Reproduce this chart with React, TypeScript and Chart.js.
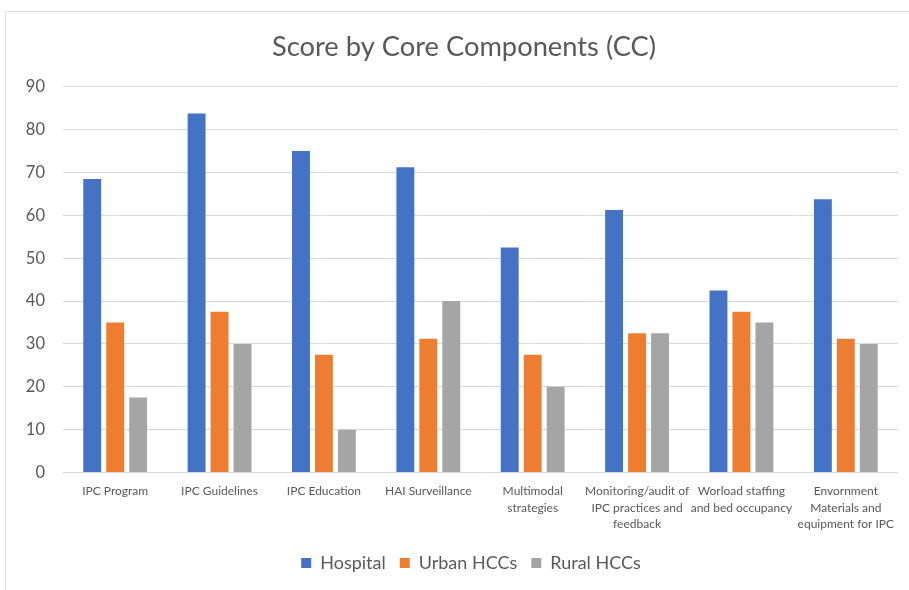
import React, { useEffect, useRef } from "react";
import { Chart, registerables } from "chart.js";

Chart.register(...registerables);

const categories: string[][] = [
  ["IPC Program"],
  ["IPC Guidelines"],
  ["IPC Education"],
  ["HAI Surveillance"],
  ["Multimodal", "strategies"],
  ["Monitoring/audit of", "IPC practices and", "feedback"],
  ["Worload staffing", "and bed occupancy"],
  ["Envornment", "Materials and", "equipment for IPC"],
];

const hospital = [68.5, 83.75, 75, 71.25, 52.5, 61.25, 42.5, 63.75];
const urbanHCCs = [35, 37.5, 27.5, 31.25, 27.5, 32.5, 37.5, 31.25];
const ruralHCCs = [17.5, 30, 10, 40, 20, 32.5, 35, 30];

const FONT = "Lato, 'Open Sans', sans-serif";

const shiftPlugin = {
  id: "shiftBoxes",
  afterLayout(chart: any) {
    if (chart.titleBlock) {
      chart.titleBlock.left += 15;
      chart.titleBlock.right += 15;
    }
    if (chart.legend) {
      chart.legend.left += 22;
      chart.legend.right += 22;
    }
  },
};

export default function App() {
  const ref = useRef<HTMLCanvasElement | null>(null);
  useEffect(() => {
    document.body.style.margin = "0";
    const ctx = ref.current!;
    const chart = new Chart(ctx, {
      type: "bar",
      data: {
        labels: categories,
        datasets: [
          { label: "Hospital", data: hospital, backgroundColor: "#4472C4" },
          { label: "Urban HCCs", data: urbanHCCs, backgroundColor: "#ED7D31" },
          { label: "Rural HCCs", data: ruralHCCs, backgroundColor: "#A5A5A5" },
        ],
      },
      options: {
        animation: false,
        responsive: false,
        maintainAspectRatio: false,
        layout: { padding: { left: 0, right: 11, top: 31, bottom: 8 } },
        datasets: {
          bar: { categoryPercentage: 0.66, barPercentage: 0.78 },
        },
        plugins: {
          title: {
            display: true,
            text: "Score by Core Components (CC)",
            color: "#595959",
            font: { family: FONT, size: 27.3, weight: "normal" },
            padding: { top: 0, bottom: 23 },
          },
          legend: {
            position: "bottom",
            labels: {
              color: "#595959",
              font: { family: FONT, size: 18 },
              boxWidth: 10,
              boxHeight: 10,
              padding: 14,
            },
          },
          tooltip: { enabled: false },
        },
        scales: {
          x: {
            afterFit: (scale: any) => {
              scale.height += 5;
            },
            grid: { display: false },
            border: { display: false },
            ticks: {
              color: "#595959",
              font: { family: FONT, size: 12, lineHeight: 1.4 },
              maxRotation: 0,
              autoSkip: false,
              padding: 2,
            },
          },
          y: {
            min: 0,
            max: 90,
            afterFit: (scale: any) => {
              scale.width = 63;
            },
            grid: { color: "#D9D9D9", drawTicks: false, lineWidth: 1 },
            border: { display: false },
            ticks: {
              stepSize: 10,
              color: "#595959",
              font: { family: FONT, size: 16.5 },
              padding: 18,
            },
          },
        },
      },
      plugins: [shiftPlugin],
    });
    return () => chart.destroy();
  }, []);
  return (
    <div style={{ position: "absolute", left: 0, top: 0, width: 909, height: 590, background: "#fff" }}>
      <div style={{ position: "absolute", left: 5, top: 11, width: 904, height: 579, borderTop: "1px solid #e0e0e0", borderLeft: "1px solid #e0e0e0", boxSizing: "border-box" }} />
      <canvas ref={ref} width={909} height={590} style={{ position: "absolute", left: 0, top: 0 }} />
    </div>
  );
}
